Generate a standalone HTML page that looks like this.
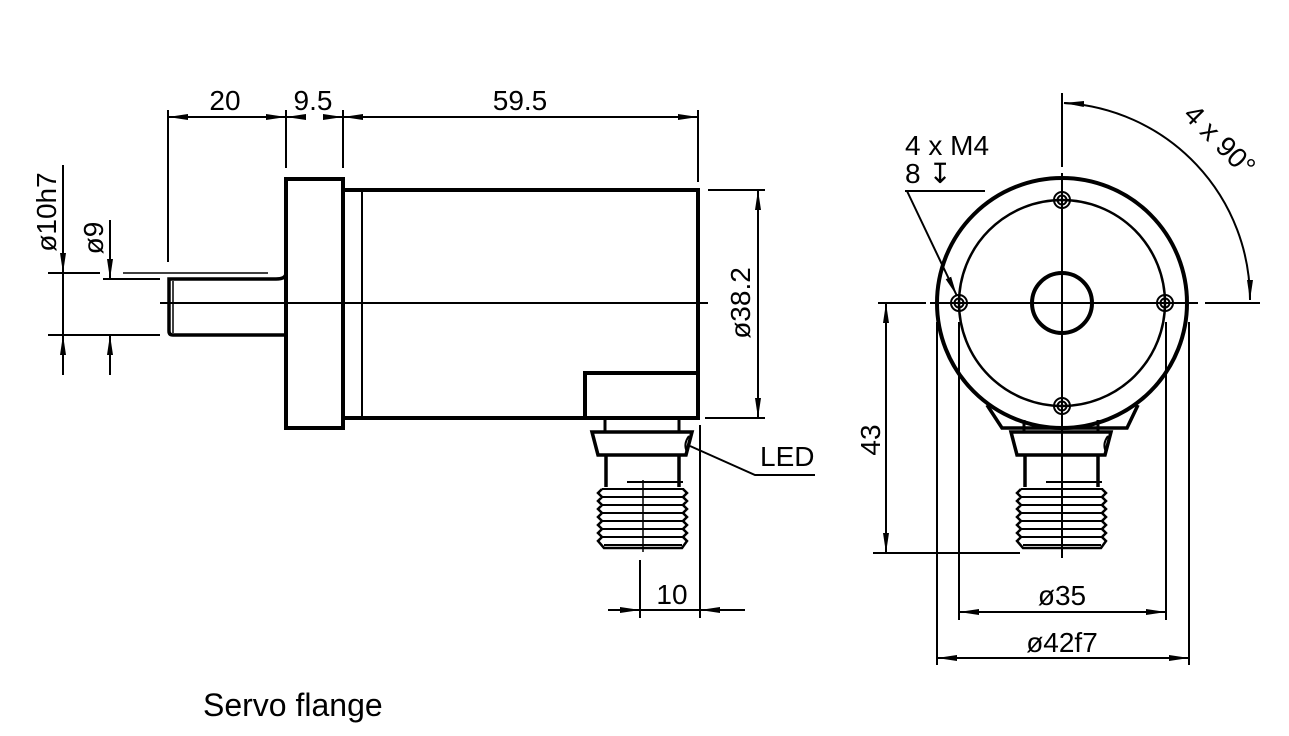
<!DOCTYPE html>
<html><head><meta charset="utf-8"><style>
body{margin:0;background:#fff}
svg{display:block}
text{font-family:"Liberation Sans",Arial,sans-serif;fill:#000}
</style></head><body>
<svg width="1289" height="736" viewBox="0 0 1289 736" xmlns="http://www.w3.org/2000/svg">
<defs>
<marker id="a" viewBox="0 0 20 8" refX="20" refY="4" markerWidth="20" markerHeight="8" markerUnits="userSpaceOnUse" orient="auto-start-reverse"><path d="M0,1 L20,4 L0,7 Z" fill="#000"/></marker>
<g id="conn" fill="none" stroke="#000">
  <path d="M605,420 V432 M679,420 V432" stroke-width="3"/>
  <path d="M592,432 H692 L686,455 H598 Z" stroke-width="3.5"/>
  <path d="M606,455 V487 M679,455 V487" stroke-width="3.5"/>
  <path d="M602,489 L598,493 L602,497 L598,501 L602,505 L598,509 L602,513 L598,517 L602,521 L598,525 L602,529 L598,533 L602,537 L598,541 L604,548 H682 L687,541 L683,537 L687,533 L683,529 L687,525 L683,521 L687,517 L683,513 L687,509 L683,505 L687,501 L683,497 L687,493 L683,489" stroke-width="2.5"/>
  <path d="M627,482 H683 M602,489 H684 M602,497 H684 M602,505 H684 M602,513 H684 M602,521 H684 M602,529 H684 M602,537 H684 M604,545 H682" stroke-width="2"/>
  <path d="M689,436 q-6,8 -2,16" stroke-width="2"/>
</g>
</defs>

<g fill="none" stroke="#000">
<rect x="286" y="179" width="57" height="249" stroke-width="4"/>
<path d="M343,190 H698 V418 H343" stroke-width="4"/>
<line x1="362" y1="190" x2="362" y2="418" stroke-width="2"/>
<path d="M286,335 H173 q-4,0 -4,-4 V279 H276 q10,0 10,-6" stroke-width="3.5"/>
<line x1="173" y1="281" x2="173" y2="333" stroke-width="1.5"/>
<line x1="123" y1="273" x2="268" y2="273" stroke-width="1.5"/>
<line x1="160" y1="303" x2="708" y2="303" stroke-width="2"/>
<path d="M585,418 V373 H698" stroke-width="4"/>
<line x1="540" y1="418" x2="585" y2="418" stroke-width="4"/>
<use href="#conn"/>
<line x1="643" y1="480" x2="643" y2="552" stroke-width="1.5"/>
<path d="M690,446 L755,475 H815" stroke-width="2"/>

<g stroke-width="2">
<line x1="168" y1="110" x2="168" y2="262"/>
<line x1="286" y1="110" x2="286" y2="168"/>
<line x1="343" y1="110" x2="343" y2="168"/>
<line x1="698" y1="110" x2="698" y2="182"/>
<line x1="168" y1="117" x2="286" y2="117" marker-start="url(#a)" marker-end="url(#a)"/>
<line x1="343" y1="117" x2="698" y2="117" marker-start="url(#a)" marker-end="url(#a)"/>
<line x1="306" y1="117" x2="286" y2="117" marker-end="url(#a)"/>
<line x1="323" y1="117" x2="343" y2="117" marker-end="url(#a)"/>
</g>
<g stroke-width="2">
<line x1="48" y1="273" x2="100" y2="273"/>
<line x1="48" y1="335" x2="160" y2="335"/>
<line x1="103" y1="279" x2="160" y2="279"/>
<line x1="63" y1="165" x2="63" y2="273" marker-end="url(#a)"/>
<line x1="63" y1="375" x2="63" y2="335" marker-end="url(#a)"/>
<line x1="63" y1="273" x2="63" y2="335"/>
<line x1="110" y1="220" x2="110" y2="279" marker-end="url(#a)"/>
<line x1="110" y1="375" x2="110" y2="335" marker-end="url(#a)"/>
</g>
<g stroke-width="2">
<line x1="708" y1="190" x2="765" y2="190"/>
<line x1="705" y1="418" x2="765" y2="418"/>
<line x1="758" y1="190" x2="758" y2="418" marker-start="url(#a)" marker-end="url(#a)"/>
</g>
<g stroke-width="2">
<line x1="640" y1="560" x2="640" y2="618"/>
<line x1="700" y1="425" x2="700" y2="618"/>
<line x1="608" y1="610" x2="640" y2="610" marker-end="url(#a)"/>
<line x1="745" y1="610" x2="700" y2="610" marker-end="url(#a)"/>
<line x1="640" y1="610" x2="700" y2="610"/>
</g>

<circle cx="1062" cy="303" r="125" stroke-width="4"/>
<circle cx="1062" cy="303" r="103" stroke-width="2.5"/>
<circle cx="1062" cy="303" r="30" stroke-width="4"/>
<g stroke-width="2">
<circle cx="959" cy="303" r="8"/><circle cx="959" cy="303" r="4.5"/>
<circle cx="1165" cy="303" r="8"/><circle cx="1165" cy="303" r="4.5"/>
<circle cx="1062" cy="200" r="8"/><circle cx="1062" cy="200" r="4.5"/>
<circle cx="1062" cy="406" r="8"/><circle cx="1062" cy="406" r="4.5"/>
</g>
<path d="M987,405 L1002,428 H1127 L1138,405" stroke-width="3.5"/>
<g transform="translate(419,0)"><use href="#conn"/></g>
<line x1="1062" y1="93" x2="1062" y2="167" stroke-width="2"/>
<line x1="1062" y1="173" x2="1062" y2="558" stroke-width="2"/>
<line x1="878" y1="303" x2="926" y2="303" stroke-width="2"/>
<line x1="930" y1="303" x2="1198" y2="303" stroke-width="2"/>
<line x1="1205" y1="303" x2="1260" y2="303" stroke-width="2"/>
<line x1="905" y1="191" x2="985" y2="191" stroke-width="2"/>
<line x1="907" y1="191" x2="957" y2="296" stroke-width="2" marker-end="url(#a)"/>
<path d="M1064,103 A197,197 0 0 1 1250,300" stroke-width="2"/>
<line x1="1084" y1="104" x2="1064" y2="103" stroke-width="2" marker-end="url(#a)"/>
<line x1="1250" y1="280" x2="1250" y2="300" stroke-width="2" marker-end="url(#a)"/>
<g stroke-width="2">
<line x1="873" y1="553" x2="1020" y2="553"/>
<line x1="886" y1="303" x2="886" y2="553" marker-start="url(#a)" marker-end="url(#a)"/>
<line x1="937" y1="322" x2="937" y2="665"/>
<line x1="1189" y1="322" x2="1189" y2="665"/>
<line x1="959" y1="322" x2="959" y2="620"/>
<line x1="1166" y1="322" x2="1166" y2="620"/>
<line x1="959" y1="612" x2="1166" y2="612" marker-start="url(#a)" marker-end="url(#a)"/>
<line x1="937" y1="658" x2="1189" y2="658" marker-start="url(#a)" marker-end="url(#a)"/>
</g>
</g>

<g font-size="28">
<text x="225" y="110" text-anchor="middle">20</text>
<text x="313" y="110" text-anchor="middle">9.5</text>
<text x="520" y="110" text-anchor="middle">59.5</text>
<text transform="translate(56,212) rotate(-90)" text-anchor="middle">ø10h7</text>
<text transform="translate(103,238) rotate(-90)" text-anchor="middle">ø9</text>
<text transform="translate(750,303) rotate(-90)" text-anchor="middle">ø38.2</text>
<text x="760" y="466">LED</text>
<text x="672" y="604" text-anchor="middle">10</text>
<text x="905" y="155">4 x M4</text>
<text x="905" y="183">8 ↧</text>
<text transform="translate(1213,147) rotate(45)" text-anchor="middle">4 x 90°</text>
<text transform="translate(880,440) rotate(-90)" text-anchor="middle">43</text>
<text x="1062" y="605" text-anchor="middle">ø35</text>
<text x="1062" y="652" text-anchor="middle">ø42f7</text>
<text x="203" y="716" font-size="32">Servo flange</text>
</g>
</svg>
</body></html>
